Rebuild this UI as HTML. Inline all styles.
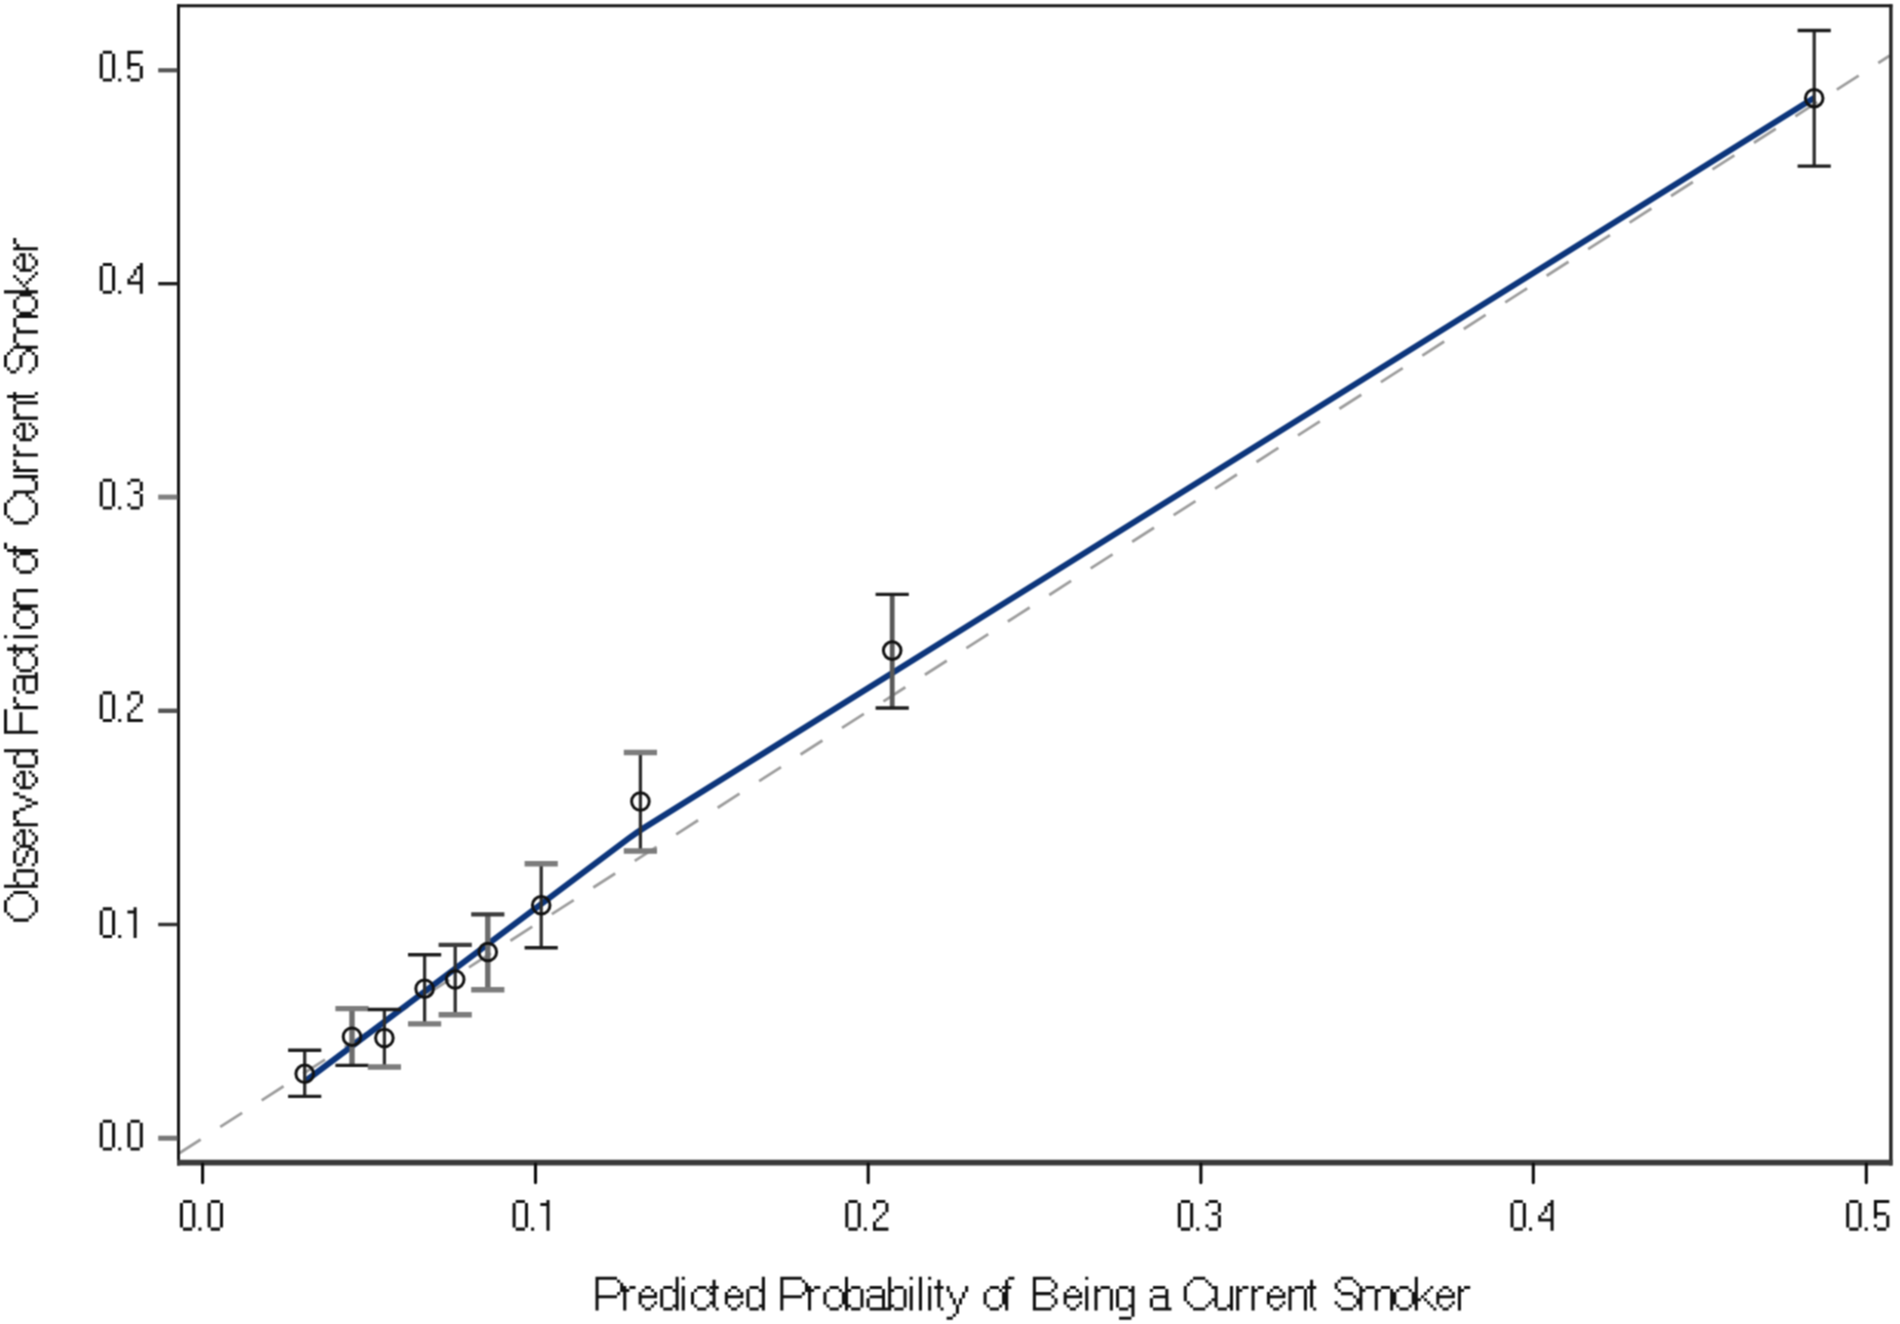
<!DOCTYPE html>
<html><head><meta charset="utf-8"><title>Calibration plot</title>
<style>
html,body{margin:0;padding:0;background:#fff;}
body{width:1900px;height:1324px;overflow:hidden;position:relative;}
svg{position:absolute;left:0;top:0;display:block;}
text{font-family:"Liberation Sans",sans-serif;}
</style></head><body>
<svg width="1900" height="1324" viewBox="0 0 1900 1324" role="img" aria-label="Calibration plot: observed fraction vs predicted probability of being a current smoker">
<defs><filter id="soft" filterUnits="userSpaceOnUse" x="0" y="0" width="1900" height="1324" color-interpolation-filters="sRGB"><feConvolveMatrix order="3" kernelMatrix="1 2 1 2 4 2 1 2 1" edgeMode="duplicate"/></filter></defs>
<g filter="url(#soft)">
<rect x="0" y="0" width="1900" height="1324" fill="#fff"/>
<line x1="178.8" y1="1153.5" x2="1889.5" y2="55.8" stroke="#9c9c9c" stroke-width="2.8" stroke-dasharray="26 23.25"/>
<path d="M305.5 1081 L628 838.9 Q636.8 832.3 646 826.6 L1814.3 97.8" fill="none" stroke="#0c357b" stroke-width="6"/>
<line x1="304.7" y1="1050.2" x2="304.7" y2="1096.4" stroke="#2e2e2e" stroke-width="3.3"/>
<line x1="288.1" y1="1050.2" x2="321.3" y2="1050.2" stroke="#1c1c1c" stroke-width="3.4"/>
<line x1="288.1" y1="1096.4" x2="321.3" y2="1096.4" stroke="#1c1c1c" stroke-width="3.4"/>
<circle cx="304.7" cy="1073.8" r="8.8" fill="none" stroke="#111" stroke-width="3"/>
<line x1="352.0" y1="1008.6" x2="352.0" y2="1065.4" stroke="#6c6c6c" stroke-width="5.4"/>
<line x1="335.4" y1="1008.6" x2="368.6" y2="1008.6" stroke="#7c7c7c" stroke-width="5.4"/>
<line x1="335.4" y1="1065.4" x2="368.6" y2="1065.4" stroke="#1c1c1c" stroke-width="3.4"/>
<circle cx="352.0" cy="1036.7" r="8.8" fill="none" stroke="#111" stroke-width="3"/>
<line x1="384.4" y1="1009.5" x2="384.4" y2="1067.0" stroke="#2e2e2e" stroke-width="3.3"/>
<line x1="367.8" y1="1009.5" x2="401.0" y2="1009.5" stroke="#1c1c1c" stroke-width="3.4"/>
<line x1="367.8" y1="1067.0" x2="401.0" y2="1067.0" stroke="#7c7c7c" stroke-width="5.4"/>
<circle cx="384.4" cy="1038.0" r="8.8" fill="none" stroke="#111" stroke-width="3"/>
<line x1="424.6" y1="954.8" x2="424.6" y2="1023.9" stroke="#2e2e2e" stroke-width="3.3"/>
<line x1="408.0" y1="954.8" x2="441.2" y2="954.8" stroke="#1c1c1c" stroke-width="3.4"/>
<line x1="408.0" y1="1023.9" x2="441.2" y2="1023.9" stroke="#7c7c7c" stroke-width="5.4"/>
<circle cx="424.6" cy="988.7" r="8.8" fill="none" stroke="#111" stroke-width="3"/>
<line x1="455.2" y1="944.9" x2="455.2" y2="1014.7" stroke="#2e2e2e" stroke-width="3.3"/>
<line x1="438.6" y1="944.9" x2="471.8" y2="944.9" stroke="#3c3c3c" stroke-width="4.2"/>
<line x1="438.6" y1="1014.7" x2="471.8" y2="1014.7" stroke="#7c7c7c" stroke-width="5.4"/>
<circle cx="455.2" cy="979.5" r="8.8" fill="none" stroke="#111" stroke-width="3"/>
<line x1="487.8" y1="914.3" x2="487.8" y2="989.7" stroke="#6c6c6c" stroke-width="5.4"/>
<line x1="471.2" y1="914.3" x2="504.4" y2="914.3" stroke="#3c3c3c" stroke-width="4.2"/>
<line x1="471.2" y1="989.7" x2="504.4" y2="989.7" stroke="#7c7c7c" stroke-width="5.4"/>
<circle cx="487.8" cy="952.0" r="8.8" fill="none" stroke="#111" stroke-width="3"/>
<line x1="541.2" y1="863.8" x2="541.2" y2="947.7" stroke="#2e2e2e" stroke-width="3.3"/>
<line x1="524.6" y1="863.8" x2="557.8" y2="863.8" stroke="#7c7c7c" stroke-width="5.4"/>
<line x1="524.6" y1="947.7" x2="557.8" y2="947.7" stroke="#1c1c1c" stroke-width="3.4"/>
<circle cx="541.2" cy="905.3" r="8.8" fill="none" stroke="#111" stroke-width="3"/>
<line x1="640.4" y1="752.5" x2="640.4" y2="851.0" stroke="#2e2e2e" stroke-width="3.3"/>
<line x1="623.8" y1="752.5" x2="657.0" y2="752.5" stroke="#7c7c7c" stroke-width="5.4"/>
<line x1="623.8" y1="851.0" x2="657.0" y2="851.0" stroke="#7c7c7c" stroke-width="5.4"/>
<circle cx="640.4" cy="801.5" r="8.8" fill="none" stroke="#111" stroke-width="3"/>
<line x1="892.2" y1="594.4" x2="892.2" y2="708.0" stroke="#585858" stroke-width="4.8"/>
<line x1="875.6" y1="594.4" x2="908.8" y2="594.4" stroke="#1c1c1c" stroke-width="3.4"/>
<line x1="875.6" y1="708.0" x2="908.8" y2="708.0" stroke="#1c1c1c" stroke-width="3.4"/>
<circle cx="892.2" cy="650.6" r="8.8" fill="none" stroke="#111" stroke-width="3"/>
<line x1="1814.2" y1="30.5" x2="1814.2" y2="166.1" stroke="#2e2e2e" stroke-width="3.3"/>
<line x1="1797.6" y1="30.5" x2="1830.8" y2="30.5" stroke="#1c1c1c" stroke-width="3.4"/>
<line x1="1797.6" y1="166.1" x2="1830.8" y2="166.1" stroke="#1c1c1c" stroke-width="3.4"/>
<circle cx="1814.2" cy="98.2" r="8.8" fill="none" stroke="#111" stroke-width="3"/>
<line x1="178.5" y1="4.3" x2="178.5" y2="1165.5" stroke="#161616" stroke-width="3"/>
<line x1="177" y1="5.8" x2="1892.4" y2="5.8" stroke="#161616" stroke-width="3"/>
<line x1="1890.9" y1="4.3" x2="1890.9" y2="1165.5" stroke="#222" stroke-width="3.4"/>
<line x1="177" y1="1162.6" x2="1892.6" y2="1162.6" stroke="#3a3a3a" stroke-width="5.6"/>
<line x1="158.2" y1="1138.2" x2="177.5" y2="1138.2" stroke="#777" stroke-width="5"/>
<line x1="158.2" y1="924.5" x2="177.5" y2="924.5" stroke="#333" stroke-width="3.5"/>
<line x1="158.2" y1="710.8" x2="177.5" y2="710.8" stroke="#555" stroke-width="4.5"/>
<line x1="158.2" y1="497.1" x2="177.5" y2="497.1" stroke="#808080" stroke-width="5"/>
<line x1="158.2" y1="283.7" x2="177.5" y2="283.7" stroke="#1e1e1e" stroke-width="3.4"/>
<line x1="158.2" y1="70.3" x2="177.5" y2="70.3" stroke="#555" stroke-width="4.2"/>
<line x1="202.6" y1="1164" x2="202.6" y2="1182.6" stroke="#0a0a0a" stroke-width="3.1" stroke-linecap="round"/>
<line x1="535.5" y1="1164" x2="535.5" y2="1182.6" stroke="#0a0a0a" stroke-width="3.1" stroke-linecap="round"/>
<line x1="868.2" y1="1164" x2="868.2" y2="1182.6" stroke="#0a0a0a" stroke-width="3.1" stroke-linecap="round"/>
<line x1="1200.9" y1="1164" x2="1200.9" y2="1182.6" stroke="#0a0a0a" stroke-width="3.1" stroke-linecap="round"/>
<line x1="1533.3" y1="1164" x2="1533.3" y2="1182.6" stroke="#0a0a0a" stroke-width="3.1" stroke-linecap="round"/>
<line x1="1866.3" y1="1164" x2="1866.3" y2="1182.6" stroke="#0a0a0a" stroke-width="3.1" stroke-linecap="round"/>
<path d="M102.78 1119.70h9.24v3.08h-9.24zM99.70 1122.78h3.08v3.08h-3.08zM112.02 1122.78h3.08v3.08h-3.08zM99.70 1125.86h3.08v3.08h-3.08zM112.02 1125.86h3.08v3.08h-3.08zM99.70 1128.94h3.08v3.08h-3.08zM112.02 1128.94h3.08v3.08h-3.08zM99.70 1132.02h3.08v3.08h-3.08zM112.02 1132.02h3.08v3.08h-3.08zM99.70 1135.10h3.08v3.08h-3.08zM112.02 1135.10h3.08v3.08h-3.08zM99.70 1138.18h3.08v3.08h-3.08zM112.02 1138.18h3.08v3.08h-3.08zM99.70 1141.26h3.08v3.08h-3.08zM112.02 1141.26h3.08v3.08h-3.08zM99.70 1144.34h3.08v3.08h-3.08zM112.02 1144.34h3.08v3.08h-3.08zM102.78 1147.42h9.24v3.08h-9.24zM118.18 1147.42h3.08v3.08h-3.08zM130.50 1119.70h9.24v3.08h-9.24zM127.42 1122.78h3.08v3.08h-3.08zM139.74 1122.78h3.08v3.08h-3.08zM127.42 1125.86h3.08v3.08h-3.08zM139.74 1125.86h3.08v3.08h-3.08zM127.42 1128.94h3.08v3.08h-3.08zM139.74 1128.94h3.08v3.08h-3.08zM127.42 1132.02h3.08v3.08h-3.08zM139.74 1132.02h3.08v3.08h-3.08zM127.42 1135.10h3.08v3.08h-3.08zM139.74 1135.10h3.08v3.08h-3.08zM127.42 1138.18h3.08v3.08h-3.08zM139.74 1138.18h3.08v3.08h-3.08zM127.42 1141.26h3.08v3.08h-3.08zM139.74 1141.26h3.08v3.08h-3.08zM127.42 1144.34h3.08v3.08h-3.08zM139.74 1144.34h3.08v3.08h-3.08zM130.50 1147.42h9.24v3.08h-9.24zM182.98 1199.90h9.24v3.08h-9.24zM179.90 1202.98h3.08v3.08h-3.08zM192.22 1202.98h3.08v3.08h-3.08zM179.90 1206.06h3.08v3.08h-3.08zM192.22 1206.06h3.08v3.08h-3.08zM179.90 1209.14h3.08v3.08h-3.08zM192.22 1209.14h3.08v3.08h-3.08zM179.90 1212.22h3.08v3.08h-3.08zM192.22 1212.22h3.08v3.08h-3.08zM179.90 1215.30h3.08v3.08h-3.08zM192.22 1215.30h3.08v3.08h-3.08zM179.90 1218.38h3.08v3.08h-3.08zM192.22 1218.38h3.08v3.08h-3.08zM179.90 1221.46h3.08v3.08h-3.08zM192.22 1221.46h3.08v3.08h-3.08zM179.90 1224.54h3.08v3.08h-3.08zM192.22 1224.54h3.08v3.08h-3.08zM182.98 1227.62h9.24v3.08h-9.24zM198.38 1227.62h3.08v3.08h-3.08zM210.70 1199.90h9.24v3.08h-9.24zM207.62 1202.98h3.08v3.08h-3.08zM219.94 1202.98h3.08v3.08h-3.08zM207.62 1206.06h3.08v3.08h-3.08zM219.94 1206.06h3.08v3.08h-3.08zM207.62 1209.14h3.08v3.08h-3.08zM219.94 1209.14h3.08v3.08h-3.08zM207.62 1212.22h3.08v3.08h-3.08zM219.94 1212.22h3.08v3.08h-3.08zM207.62 1215.30h3.08v3.08h-3.08zM219.94 1215.30h3.08v3.08h-3.08zM207.62 1218.38h3.08v3.08h-3.08zM219.94 1218.38h3.08v3.08h-3.08zM207.62 1221.46h3.08v3.08h-3.08zM219.94 1221.46h3.08v3.08h-3.08zM207.62 1224.54h3.08v3.08h-3.08zM219.94 1224.54h3.08v3.08h-3.08zM210.70 1227.62h9.24v3.08h-9.24zM102.78 907.30h9.24v3.08h-9.24zM99.70 910.38h3.08v3.08h-3.08zM112.02 910.38h3.08v3.08h-3.08zM99.70 913.46h3.08v3.08h-3.08zM112.02 913.46h3.08v3.08h-3.08zM99.70 916.54h3.08v3.08h-3.08zM112.02 916.54h3.08v3.08h-3.08zM99.70 919.62h3.08v3.08h-3.08zM112.02 919.62h3.08v3.08h-3.08zM99.70 922.70h3.08v3.08h-3.08zM112.02 922.70h3.08v3.08h-3.08zM99.70 925.78h3.08v3.08h-3.08zM112.02 925.78h3.08v3.08h-3.08zM99.70 928.86h3.08v3.08h-3.08zM112.02 928.86h3.08v3.08h-3.08zM99.70 931.94h3.08v3.08h-3.08zM112.02 931.94h3.08v3.08h-3.08zM102.78 935.02h9.24v3.08h-9.24zM118.18 935.02h3.08v3.08h-3.08zM133.58 907.30h3.08v3.08h-3.08zM127.42 910.38h9.24v3.08h-9.24zM133.58 913.46h3.08v3.08h-3.08zM133.58 916.54h3.08v3.08h-3.08zM133.58 919.62h3.08v3.08h-3.08zM133.58 922.70h3.08v3.08h-3.08zM133.58 925.78h3.08v3.08h-3.08zM133.58 928.86h3.08v3.08h-3.08zM133.58 931.94h3.08v3.08h-3.08zM133.58 935.02h3.08v3.08h-3.08zM515.68 1199.90h9.24v3.08h-9.24zM512.60 1202.98h3.08v3.08h-3.08zM524.92 1202.98h3.08v3.08h-3.08zM512.60 1206.06h3.08v3.08h-3.08zM524.92 1206.06h3.08v3.08h-3.08zM512.60 1209.14h3.08v3.08h-3.08zM524.92 1209.14h3.08v3.08h-3.08zM512.60 1212.22h3.08v3.08h-3.08zM524.92 1212.22h3.08v3.08h-3.08zM512.60 1215.30h3.08v3.08h-3.08zM524.92 1215.30h3.08v3.08h-3.08zM512.60 1218.38h3.08v3.08h-3.08zM524.92 1218.38h3.08v3.08h-3.08zM512.60 1221.46h3.08v3.08h-3.08zM524.92 1221.46h3.08v3.08h-3.08zM512.60 1224.54h3.08v3.08h-3.08zM524.92 1224.54h3.08v3.08h-3.08zM515.68 1227.62h9.24v3.08h-9.24zM531.08 1227.62h3.08v3.08h-3.08zM546.48 1199.90h3.08v3.08h-3.08zM540.32 1202.98h9.24v3.08h-9.24zM546.48 1206.06h3.08v3.08h-3.08zM546.48 1209.14h3.08v3.08h-3.08zM546.48 1212.22h3.08v3.08h-3.08zM546.48 1215.30h3.08v3.08h-3.08zM546.48 1218.38h3.08v3.08h-3.08zM546.48 1221.46h3.08v3.08h-3.08zM546.48 1224.54h3.08v3.08h-3.08zM546.48 1227.62h3.08v3.08h-3.08zM102.78 691.30h9.24v3.08h-9.24zM99.70 694.38h3.08v3.08h-3.08zM112.02 694.38h3.08v3.08h-3.08zM99.70 697.46h3.08v3.08h-3.08zM112.02 697.46h3.08v3.08h-3.08zM99.70 700.54h3.08v3.08h-3.08zM112.02 700.54h3.08v3.08h-3.08zM99.70 703.62h3.08v3.08h-3.08zM112.02 703.62h3.08v3.08h-3.08zM99.70 706.70h3.08v3.08h-3.08zM112.02 706.70h3.08v3.08h-3.08zM99.70 709.78h3.08v3.08h-3.08zM112.02 709.78h3.08v3.08h-3.08zM99.70 712.86h3.08v3.08h-3.08zM112.02 712.86h3.08v3.08h-3.08zM99.70 715.94h3.08v3.08h-3.08zM112.02 715.94h3.08v3.08h-3.08zM102.78 719.02h9.24v3.08h-9.24zM118.18 719.02h3.08v3.08h-3.08zM130.50 691.30h9.24v3.08h-9.24zM127.42 694.38h3.08v3.08h-3.08zM139.74 694.38h3.08v3.08h-3.08zM127.42 697.46h3.08v3.08h-3.08zM139.74 697.46h3.08v3.08h-3.08zM139.74 700.54h3.08v3.08h-3.08zM136.66 703.62h3.08v3.08h-3.08zM133.58 706.70h3.08v3.08h-3.08zM130.50 709.78h3.08v3.08h-3.08zM127.42 712.86h3.08v3.08h-3.08zM127.42 715.94h3.08v3.08h-3.08zM127.42 719.02h15.40v3.08h-15.40zM848.38 1199.90h9.24v3.08h-9.24zM845.30 1202.98h3.08v3.08h-3.08zM857.62 1202.98h3.08v3.08h-3.08zM845.30 1206.06h3.08v3.08h-3.08zM857.62 1206.06h3.08v3.08h-3.08zM845.30 1209.14h3.08v3.08h-3.08zM857.62 1209.14h3.08v3.08h-3.08zM845.30 1212.22h3.08v3.08h-3.08zM857.62 1212.22h3.08v3.08h-3.08zM845.30 1215.30h3.08v3.08h-3.08zM857.62 1215.30h3.08v3.08h-3.08zM845.30 1218.38h3.08v3.08h-3.08zM857.62 1218.38h3.08v3.08h-3.08zM845.30 1221.46h3.08v3.08h-3.08zM857.62 1221.46h3.08v3.08h-3.08zM845.30 1224.54h3.08v3.08h-3.08zM857.62 1224.54h3.08v3.08h-3.08zM848.38 1227.62h9.24v3.08h-9.24zM863.78 1227.62h3.08v3.08h-3.08zM876.10 1199.90h9.24v3.08h-9.24zM873.02 1202.98h3.08v3.08h-3.08zM885.34 1202.98h3.08v3.08h-3.08zM873.02 1206.06h3.08v3.08h-3.08zM885.34 1206.06h3.08v3.08h-3.08zM885.34 1209.14h3.08v3.08h-3.08zM882.26 1212.22h3.08v3.08h-3.08zM879.18 1215.30h3.08v3.08h-3.08zM876.10 1218.38h3.08v3.08h-3.08zM873.02 1221.46h3.08v3.08h-3.08zM873.02 1224.54h3.08v3.08h-3.08zM873.02 1227.62h15.40v3.08h-15.40zM102.78 478.70h9.24v3.08h-9.24zM99.70 481.78h3.08v3.08h-3.08zM112.02 481.78h3.08v3.08h-3.08zM99.70 484.86h3.08v3.08h-3.08zM112.02 484.86h3.08v3.08h-3.08zM99.70 487.94h3.08v3.08h-3.08zM112.02 487.94h3.08v3.08h-3.08zM99.70 491.02h3.08v3.08h-3.08zM112.02 491.02h3.08v3.08h-3.08zM99.70 494.10h3.08v3.08h-3.08zM112.02 494.10h3.08v3.08h-3.08zM99.70 497.18h3.08v3.08h-3.08zM112.02 497.18h3.08v3.08h-3.08zM99.70 500.26h3.08v3.08h-3.08zM112.02 500.26h3.08v3.08h-3.08zM99.70 503.34h3.08v3.08h-3.08zM112.02 503.34h3.08v3.08h-3.08zM102.78 506.42h9.24v3.08h-9.24zM118.18 506.42h3.08v3.08h-3.08zM130.50 478.70h9.24v3.08h-9.24zM127.42 481.78h3.08v3.08h-3.08zM139.74 481.78h3.08v3.08h-3.08zM139.74 484.86h3.08v3.08h-3.08zM139.74 487.94h3.08v3.08h-3.08zM133.58 491.02h6.16v3.08h-6.16zM139.74 494.10h3.08v3.08h-3.08zM139.74 497.18h3.08v3.08h-3.08zM139.74 500.26h3.08v3.08h-3.08zM127.42 503.34h3.08v3.08h-3.08zM139.74 503.34h3.08v3.08h-3.08zM130.50 506.42h9.24v3.08h-9.24zM1180.88 1199.90h9.24v3.08h-9.24zM1177.80 1202.98h3.08v3.08h-3.08zM1190.12 1202.98h3.08v3.08h-3.08zM1177.80 1206.06h3.08v3.08h-3.08zM1190.12 1206.06h3.08v3.08h-3.08zM1177.80 1209.14h3.08v3.08h-3.08zM1190.12 1209.14h3.08v3.08h-3.08zM1177.80 1212.22h3.08v3.08h-3.08zM1190.12 1212.22h3.08v3.08h-3.08zM1177.80 1215.30h3.08v3.08h-3.08zM1190.12 1215.30h3.08v3.08h-3.08zM1177.80 1218.38h3.08v3.08h-3.08zM1190.12 1218.38h3.08v3.08h-3.08zM1177.80 1221.46h3.08v3.08h-3.08zM1190.12 1221.46h3.08v3.08h-3.08zM1177.80 1224.54h3.08v3.08h-3.08zM1190.12 1224.54h3.08v3.08h-3.08zM1180.88 1227.62h9.24v3.08h-9.24zM1196.28 1227.62h3.08v3.08h-3.08zM1208.60 1199.90h9.24v3.08h-9.24zM1205.52 1202.98h3.08v3.08h-3.08zM1217.84 1202.98h3.08v3.08h-3.08zM1217.84 1206.06h3.08v3.08h-3.08zM1217.84 1209.14h3.08v3.08h-3.08zM1211.68 1212.22h6.16v3.08h-6.16zM1217.84 1215.30h3.08v3.08h-3.08zM1217.84 1218.38h3.08v3.08h-3.08zM1217.84 1221.46h3.08v3.08h-3.08zM1205.52 1224.54h3.08v3.08h-3.08zM1217.84 1224.54h3.08v3.08h-3.08zM1208.60 1227.62h9.24v3.08h-9.24zM102.78 263.00h9.24v3.08h-9.24zM99.70 266.08h3.08v3.08h-3.08zM112.02 266.08h3.08v3.08h-3.08zM99.70 269.16h3.08v3.08h-3.08zM112.02 269.16h3.08v3.08h-3.08zM99.70 272.24h3.08v3.08h-3.08zM112.02 272.24h3.08v3.08h-3.08zM99.70 275.32h3.08v3.08h-3.08zM112.02 275.32h3.08v3.08h-3.08zM99.70 278.40h3.08v3.08h-3.08zM112.02 278.40h3.08v3.08h-3.08zM99.70 281.48h3.08v3.08h-3.08zM112.02 281.48h3.08v3.08h-3.08zM99.70 284.56h3.08v3.08h-3.08zM112.02 284.56h3.08v3.08h-3.08zM99.70 287.64h3.08v3.08h-3.08zM112.02 287.64h3.08v3.08h-3.08zM102.78 290.72h9.24v3.08h-9.24zM118.18 290.72h3.08v3.08h-3.08zM139.74 263.00h3.08v3.08h-3.08zM136.66 266.08h6.16v3.08h-6.16zM133.58 269.16h3.08v3.08h-3.08zM139.74 269.16h3.08v3.08h-3.08zM133.58 272.24h3.08v3.08h-3.08zM139.74 272.24h3.08v3.08h-3.08zM130.50 275.32h3.08v3.08h-3.08zM139.74 275.32h3.08v3.08h-3.08zM127.42 278.40h3.08v3.08h-3.08zM139.74 278.40h3.08v3.08h-3.08zM127.42 281.48h15.40v3.08h-15.40zM139.74 284.56h3.08v3.08h-3.08zM139.74 287.64h3.08v3.08h-3.08zM139.74 290.72h3.08v3.08h-3.08zM1513.58 1199.90h9.24v3.08h-9.24zM1510.50 1202.98h3.08v3.08h-3.08zM1522.82 1202.98h3.08v3.08h-3.08zM1510.50 1206.06h3.08v3.08h-3.08zM1522.82 1206.06h3.08v3.08h-3.08zM1510.50 1209.14h3.08v3.08h-3.08zM1522.82 1209.14h3.08v3.08h-3.08zM1510.50 1212.22h3.08v3.08h-3.08zM1522.82 1212.22h3.08v3.08h-3.08zM1510.50 1215.30h3.08v3.08h-3.08zM1522.82 1215.30h3.08v3.08h-3.08zM1510.50 1218.38h3.08v3.08h-3.08zM1522.82 1218.38h3.08v3.08h-3.08zM1510.50 1221.46h3.08v3.08h-3.08zM1522.82 1221.46h3.08v3.08h-3.08zM1510.50 1224.54h3.08v3.08h-3.08zM1522.82 1224.54h3.08v3.08h-3.08zM1513.58 1227.62h9.24v3.08h-9.24zM1528.98 1227.62h3.08v3.08h-3.08zM1550.54 1199.90h3.08v3.08h-3.08zM1547.46 1202.98h6.16v3.08h-6.16zM1544.38 1206.06h3.08v3.08h-3.08zM1550.54 1206.06h3.08v3.08h-3.08zM1544.38 1209.14h3.08v3.08h-3.08zM1550.54 1209.14h3.08v3.08h-3.08zM1541.30 1212.22h3.08v3.08h-3.08zM1550.54 1212.22h3.08v3.08h-3.08zM1538.22 1215.30h3.08v3.08h-3.08zM1550.54 1215.30h3.08v3.08h-3.08zM1538.22 1218.38h15.40v3.08h-15.40zM1550.54 1221.46h3.08v3.08h-3.08zM1550.54 1224.54h3.08v3.08h-3.08zM1550.54 1227.62h3.08v3.08h-3.08zM102.78 50.70h9.24v3.08h-9.24zM99.70 53.78h3.08v3.08h-3.08zM112.02 53.78h3.08v3.08h-3.08zM99.70 56.86h3.08v3.08h-3.08zM112.02 56.86h3.08v3.08h-3.08zM99.70 59.94h3.08v3.08h-3.08zM112.02 59.94h3.08v3.08h-3.08zM99.70 63.02h3.08v3.08h-3.08zM112.02 63.02h3.08v3.08h-3.08zM99.70 66.10h3.08v3.08h-3.08zM112.02 66.10h3.08v3.08h-3.08zM99.70 69.18h3.08v3.08h-3.08zM112.02 69.18h3.08v3.08h-3.08zM99.70 72.26h3.08v3.08h-3.08zM112.02 72.26h3.08v3.08h-3.08zM99.70 75.34h3.08v3.08h-3.08zM112.02 75.34h3.08v3.08h-3.08zM102.78 78.42h9.24v3.08h-9.24zM118.18 78.42h3.08v3.08h-3.08zM127.42 50.70h15.40v3.08h-15.40zM127.42 53.78h3.08v3.08h-3.08zM127.42 56.86h3.08v3.08h-3.08zM127.42 59.94h3.08v3.08h-3.08zM127.42 63.02h12.32v3.08h-12.32zM127.42 66.10h3.08v3.08h-3.08zM139.74 66.10h3.08v3.08h-3.08zM139.74 69.18h3.08v3.08h-3.08zM139.74 72.26h3.08v3.08h-3.08zM127.42 75.34h3.08v3.08h-3.08zM139.74 75.34h3.08v3.08h-3.08zM130.50 78.42h9.24v3.08h-9.24zM1849.28 1199.90h9.24v3.08h-9.24zM1846.20 1202.98h3.08v3.08h-3.08zM1858.52 1202.98h3.08v3.08h-3.08zM1846.20 1206.06h3.08v3.08h-3.08zM1858.52 1206.06h3.08v3.08h-3.08zM1846.20 1209.14h3.08v3.08h-3.08zM1858.52 1209.14h3.08v3.08h-3.08zM1846.20 1212.22h3.08v3.08h-3.08zM1858.52 1212.22h3.08v3.08h-3.08zM1846.20 1215.30h3.08v3.08h-3.08zM1858.52 1215.30h3.08v3.08h-3.08zM1846.20 1218.38h3.08v3.08h-3.08zM1858.52 1218.38h3.08v3.08h-3.08zM1846.20 1221.46h3.08v3.08h-3.08zM1858.52 1221.46h3.08v3.08h-3.08zM1846.20 1224.54h3.08v3.08h-3.08zM1858.52 1224.54h3.08v3.08h-3.08zM1849.28 1227.62h9.24v3.08h-9.24zM1864.68 1227.62h3.08v3.08h-3.08zM1873.92 1199.90h15.40v3.08h-15.40zM1873.92 1202.98h3.08v3.08h-3.08zM1873.92 1206.06h3.08v3.08h-3.08zM1873.92 1209.14h3.08v3.08h-3.08zM1873.92 1212.22h12.32v3.08h-12.32zM1873.92 1215.30h3.08v3.08h-3.08zM1886.24 1215.30h3.08v3.08h-3.08zM1886.24 1218.38h3.08v3.08h-3.08zM1886.24 1221.46h3.08v3.08h-3.08zM1873.92 1224.54h3.08v3.08h-3.08zM1886.24 1224.54h3.08v3.08h-3.08zM1877.00 1227.62h9.24v3.08h-9.24z" fill="#111"><title>Tick labels 0.0 0.1 0.2 0.3 0.4 0.5</title></path>
<g aria-label="Predicted Probability of Being a Current Smoker" role="img"><title>Predicted Probability of Being a Current Smoker</title><path d="M595.50 1276.70h21.56v3.08h-21.56zM675.58 1276.70h3.08v3.08h-3.08zM681.74 1276.70h3.08v3.08h-3.08zM761.82 1276.70h3.08v3.08h-3.08zM780.30 1276.70h21.56v3.08h-21.56zM844.98 1276.70h3.08v3.08h-3.08zM888.10 1276.70h3.08v3.08h-3.08zM909.66 1276.70h3.08v3.08h-3.08zM918.90 1276.70h3.08v3.08h-3.08zM928.14 1276.70h3.08v3.08h-3.08zM1008.22 1276.70h6.16v3.08h-6.16zM1032.86 1276.70h18.48v3.08h-18.48zM1085.22 1276.70h3.08v3.08h-3.08zM1193.02 1276.70h12.32v3.08h-12.32zM1340.86 1276.70h12.32v3.08h-12.32zM1414.78 1276.70h3.08v3.08h-3.08zM595.50 1279.78h3.08v3.08h-3.08zM617.06 1279.78h3.08v3.08h-3.08zM675.58 1279.78h3.08v3.08h-3.08zM712.54 1279.78h3.08v3.08h-3.08zM761.82 1279.78h3.08v3.08h-3.08zM780.30 1279.78h3.08v3.08h-3.08zM801.86 1279.78h3.08v3.08h-3.08zM844.98 1279.78h3.08v3.08h-3.08zM888.10 1279.78h3.08v3.08h-3.08zM918.90 1279.78h3.08v3.08h-3.08zM937.38 1279.78h3.08v3.08h-3.08zM1005.14 1279.78h3.08v3.08h-3.08zM1032.86 1279.78h3.08v3.08h-3.08zM1051.34 1279.78h3.08v3.08h-3.08zM1189.94 1279.78h3.08v3.08h-3.08zM1205.34 1279.78h3.08v3.08h-3.08zM1310.06 1279.78h3.08v3.08h-3.08zM1337.78 1279.78h3.08v3.08h-3.08zM1353.18 1279.78h3.08v3.08h-3.08zM1414.78 1279.78h3.08v3.08h-3.08zM595.50 1282.86h3.08v3.08h-3.08zM620.14 1282.86h3.08v3.08h-3.08zM675.58 1282.86h3.08v3.08h-3.08zM712.54 1282.86h3.08v3.08h-3.08zM761.82 1282.86h3.08v3.08h-3.08zM780.30 1282.86h3.08v3.08h-3.08zM804.94 1282.86h3.08v3.08h-3.08zM844.98 1282.86h3.08v3.08h-3.08zM888.10 1282.86h3.08v3.08h-3.08zM918.90 1282.86h3.08v3.08h-3.08zM937.38 1282.86h3.08v3.08h-3.08zM1005.14 1282.86h3.08v3.08h-3.08zM1032.86 1282.86h3.08v3.08h-3.08zM1054.42 1282.86h3.08v3.08h-3.08zM1186.86 1282.86h3.08v3.08h-3.08zM1208.42 1282.86h3.08v3.08h-3.08zM1310.06 1282.86h3.08v3.08h-3.08zM1334.70 1282.86h3.08v3.08h-3.08zM1356.26 1282.86h3.08v3.08h-3.08zM1414.78 1282.86h3.08v3.08h-3.08zM595.50 1285.94h3.08v3.08h-3.08zM620.14 1285.94h6.16v3.08h-6.16zM629.38 1285.94h6.16v3.08h-6.16zM644.78 1285.94h6.16v3.08h-6.16zM663.26 1285.94h9.24v3.08h-9.24zM675.58 1285.94h3.08v3.08h-3.08zM681.74 1285.94h3.08v3.08h-3.08zM697.14 1285.94h9.24v3.08h-9.24zM709.46 1285.94h9.24v3.08h-9.24zM731.02 1285.94h6.16v3.08h-6.16zM749.50 1285.94h9.24v3.08h-9.24zM761.82 1285.94h3.08v3.08h-3.08zM780.30 1285.94h3.08v3.08h-3.08zM804.94 1285.94h6.16v3.08h-6.16zM814.18 1285.94h6.16v3.08h-6.16zM829.58 1285.94h9.24v3.08h-9.24zM844.98 1285.94h3.08v3.08h-3.08zM851.14 1285.94h9.24v3.08h-9.24zM869.62 1285.94h12.32v3.08h-12.32zM888.10 1285.94h3.08v3.08h-3.08zM894.26 1285.94h9.24v3.08h-9.24zM909.66 1285.94h3.08v3.08h-3.08zM918.90 1285.94h3.08v3.08h-3.08zM928.14 1285.94h3.08v3.08h-3.08zM934.30 1285.94h9.24v3.08h-9.24zM946.62 1285.94h3.08v3.08h-3.08zM965.10 1285.94h3.08v3.08h-3.08zM989.74 1285.94h9.24v3.08h-9.24zM1002.06 1285.94h9.24v3.08h-9.24zM1032.86 1285.94h3.08v3.08h-3.08zM1054.42 1285.94h3.08v3.08h-3.08zM1069.82 1285.94h6.16v3.08h-6.16zM1085.22 1285.94h3.08v3.08h-3.08zM1094.46 1285.94h3.08v3.08h-3.08zM1100.62 1285.94h9.24v3.08h-9.24zM1119.10 1285.94h9.24v3.08h-9.24zM1131.42 1285.94h3.08v3.08h-3.08zM1152.98 1285.94h12.32v3.08h-12.32zM1183.78 1285.94h3.08v3.08h-3.08zM1211.50 1285.94h6.16v3.08h-6.16zM1229.98 1285.94h3.08v3.08h-3.08zM1236.14 1285.94h3.08v3.08h-3.08zM1242.30 1285.94h6.16v3.08h-6.16zM1251.54 1285.94h3.08v3.08h-3.08zM1257.70 1285.94h6.16v3.08h-6.16zM1273.10 1285.94h6.16v3.08h-6.16zM1288.50 1285.94h3.08v3.08h-3.08zM1294.66 1285.94h9.24v3.08h-9.24zM1306.98 1285.94h9.24v3.08h-9.24zM1334.70 1285.94h3.08v3.08h-3.08zM1359.34 1285.94h3.08v3.08h-3.08zM1365.50 1285.94h9.24v3.08h-9.24zM1380.90 1285.94h9.24v3.08h-9.24zM1399.38 1285.94h9.24v3.08h-9.24zM1414.78 1285.94h3.08v3.08h-3.08zM1430.18 1285.94h3.08v3.08h-3.08zM1442.50 1285.94h6.16v3.08h-6.16zM1457.90 1285.94h3.08v3.08h-3.08zM1464.06 1285.94h6.16v3.08h-6.16zM595.50 1289.02h3.08v3.08h-3.08zM620.14 1289.02h9.24v3.08h-9.24zM641.70 1289.02h3.08v3.08h-3.08zM650.94 1289.02h3.08v3.08h-3.08zM660.18 1289.02h3.08v3.08h-3.08zM672.50 1289.02h6.16v3.08h-6.16zM681.74 1289.02h3.08v3.08h-3.08zM694.06 1289.02h3.08v3.08h-3.08zM706.38 1289.02h3.08v3.08h-3.08zM712.54 1289.02h3.08v3.08h-3.08zM727.94 1289.02h3.08v3.08h-3.08zM737.18 1289.02h3.08v3.08h-3.08zM746.42 1289.02h3.08v3.08h-3.08zM758.74 1289.02h6.16v3.08h-6.16zM780.30 1289.02h3.08v3.08h-3.08zM804.94 1289.02h9.24v3.08h-9.24zM826.50 1289.02h3.08v3.08h-3.08zM838.82 1289.02h3.08v3.08h-3.08zM844.98 1289.02h6.16v3.08h-6.16zM860.38 1289.02h3.08v3.08h-3.08zM866.54 1289.02h3.08v3.08h-3.08zM881.94 1289.02h3.08v3.08h-3.08zM888.10 1289.02h6.16v3.08h-6.16zM903.50 1289.02h3.08v3.08h-3.08zM909.66 1289.02h3.08v3.08h-3.08zM918.90 1289.02h3.08v3.08h-3.08zM928.14 1289.02h3.08v3.08h-3.08zM937.38 1289.02h3.08v3.08h-3.08zM946.62 1289.02h3.08v3.08h-3.08zM965.10 1289.02h3.08v3.08h-3.08zM986.66 1289.02h3.08v3.08h-3.08zM998.98 1289.02h3.08v3.08h-3.08zM1005.14 1289.02h3.08v3.08h-3.08zM1032.86 1289.02h3.08v3.08h-3.08zM1051.34 1289.02h3.08v3.08h-3.08zM1066.74 1289.02h3.08v3.08h-3.08zM1075.98 1289.02h3.08v3.08h-3.08zM1085.22 1289.02h3.08v3.08h-3.08zM1094.46 1289.02h6.16v3.08h-6.16zM1109.86 1289.02h3.08v3.08h-3.08zM1116.02 1289.02h3.08v3.08h-3.08zM1128.34 1289.02h6.16v3.08h-6.16zM1149.90 1289.02h3.08v3.08h-3.08zM1165.30 1289.02h3.08v3.08h-3.08zM1183.78 1289.02h3.08v3.08h-3.08zM1214.58 1289.02h3.08v3.08h-3.08zM1229.98 1289.02h3.08v3.08h-3.08zM1236.14 1289.02h6.16v3.08h-6.16zM1251.54 1289.02h6.16v3.08h-6.16zM1270.02 1289.02h3.08v3.08h-3.08zM1279.26 1289.02h3.08v3.08h-3.08zM1288.50 1289.02h6.16v3.08h-6.16zM1303.90 1289.02h3.08v3.08h-3.08zM1310.06 1289.02h3.08v3.08h-3.08zM1337.78 1289.02h3.08v3.08h-3.08zM1359.34 1289.02h6.16v3.08h-6.16zM1374.74 1289.02h6.16v3.08h-6.16zM1390.14 1289.02h3.08v3.08h-3.08zM1396.30 1289.02h3.08v3.08h-3.08zM1408.62 1289.02h3.08v3.08h-3.08zM1414.78 1289.02h3.08v3.08h-3.08zM1427.10 1289.02h3.08v3.08h-3.08zM1439.42 1289.02h3.08v3.08h-3.08zM1448.66 1289.02h3.08v3.08h-3.08zM1457.90 1289.02h6.16v3.08h-6.16zM595.50 1292.10h3.08v3.08h-3.08zM617.06 1292.10h3.08v3.08h-3.08zM623.22 1292.10h3.08v3.08h-3.08zM638.62 1292.10h3.08v3.08h-3.08zM654.02 1292.10h3.08v3.08h-3.08zM660.18 1292.10h3.08v3.08h-3.08zM675.58 1292.10h3.08v3.08h-3.08zM681.74 1292.10h3.08v3.08h-3.08zM690.98 1292.10h3.08v3.08h-3.08zM709.46 1292.10h6.16v3.08h-6.16zM724.86 1292.10h3.08v3.08h-3.08zM740.26 1292.10h3.08v3.08h-3.08zM746.42 1292.10h3.08v3.08h-3.08zM761.82 1292.10h3.08v3.08h-3.08zM780.30 1292.10h3.08v3.08h-3.08zM801.86 1292.10h3.08v3.08h-3.08zM808.02 1292.10h3.08v3.08h-3.08zM823.42 1292.10h3.08v3.08h-3.08zM841.90 1292.10h6.16v3.08h-6.16zM860.38 1292.10h3.08v3.08h-3.08zM881.94 1292.10h3.08v3.08h-3.08zM888.10 1292.10h3.08v3.08h-3.08zM903.50 1292.10h3.08v3.08h-3.08zM909.66 1292.10h3.08v3.08h-3.08zM918.90 1292.10h3.08v3.08h-3.08zM928.14 1292.10h3.08v3.08h-3.08zM937.38 1292.10h3.08v3.08h-3.08zM949.70 1292.10h3.08v3.08h-3.08zM962.02 1292.10h3.08v3.08h-3.08zM983.58 1292.10h3.08v3.08h-3.08zM1002.06 1292.10h6.16v3.08h-6.16zM1032.86 1292.10h18.48v3.08h-18.48zM1063.66 1292.10h3.08v3.08h-3.08zM1079.06 1292.10h3.08v3.08h-3.08zM1085.22 1292.10h3.08v3.08h-3.08zM1094.46 1292.10h3.08v3.08h-3.08zM1109.86 1292.10h3.08v3.08h-3.08zM1116.02 1292.10h3.08v3.08h-3.08zM1131.42 1292.10h3.08v3.08h-3.08zM1165.30 1292.10h3.08v3.08h-3.08zM1183.78 1292.10h3.08v3.08h-3.08zM1214.58 1292.10h3.08v3.08h-3.08zM1229.98 1292.10h3.08v3.08h-3.08zM1236.14 1292.10h3.08v3.08h-3.08zM1251.54 1292.10h3.08v3.08h-3.08zM1266.94 1292.10h3.08v3.08h-3.08zM1282.34 1292.10h3.08v3.08h-3.08zM1288.50 1292.10h3.08v3.08h-3.08zM1303.90 1292.10h3.08v3.08h-3.08zM1310.06 1292.10h3.08v3.08h-3.08zM1340.86 1292.10h12.32v3.08h-12.32zM1359.34 1292.10h3.08v3.08h-3.08zM1374.74 1292.10h3.08v3.08h-3.08zM1390.14 1292.10h6.16v3.08h-6.16zM1411.70 1292.10h6.16v3.08h-6.16zM1424.02 1292.10h3.08v3.08h-3.08zM1436.34 1292.10h3.08v3.08h-3.08zM1451.74 1292.10h3.08v3.08h-3.08zM1457.90 1292.10h3.08v3.08h-3.08zM595.50 1295.18h21.56v3.08h-21.56zM623.22 1295.18h3.08v3.08h-3.08zM638.62 1295.18h18.48v3.08h-18.48zM660.18 1295.18h3.08v3.08h-3.08zM675.58 1295.18h3.08v3.08h-3.08zM681.74 1295.18h3.08v3.08h-3.08zM690.98 1295.18h3.08v3.08h-3.08zM712.54 1295.18h3.08v3.08h-3.08zM724.86 1295.18h18.48v3.08h-18.48zM746.42 1295.18h3.08v3.08h-3.08zM761.82 1295.18h3.08v3.08h-3.08zM780.30 1295.18h21.56v3.08h-21.56zM808.02 1295.18h3.08v3.08h-3.08zM823.42 1295.18h3.08v3.08h-3.08zM841.90 1295.18h6.16v3.08h-6.16zM860.38 1295.18h3.08v3.08h-3.08zM869.62 1295.18h15.40v3.08h-15.40zM888.10 1295.18h3.08v3.08h-3.08zM903.50 1295.18h3.08v3.08h-3.08zM909.66 1295.18h3.08v3.08h-3.08zM918.90 1295.18h3.08v3.08h-3.08zM928.14 1295.18h3.08v3.08h-3.08zM937.38 1295.18h3.08v3.08h-3.08zM949.70 1295.18h3.08v3.08h-3.08zM962.02 1295.18h3.08v3.08h-3.08zM983.58 1295.18h3.08v3.08h-3.08zM1002.06 1295.18h6.16v3.08h-6.16zM1032.86 1295.18h3.08v3.08h-3.08zM1051.34 1295.18h3.08v3.08h-3.08zM1063.66 1295.18h18.48v3.08h-18.48zM1085.22 1295.18h3.08v3.08h-3.08zM1094.46 1295.18h3.08v3.08h-3.08zM1109.86 1295.18h3.08v3.08h-3.08zM1116.02 1295.18h3.08v3.08h-3.08zM1131.42 1295.18h3.08v3.08h-3.08zM1152.98 1295.18h15.40v3.08h-15.40zM1183.78 1295.18h3.08v3.08h-3.08zM1214.58 1295.18h3.08v3.08h-3.08zM1229.98 1295.18h3.08v3.08h-3.08zM1236.14 1295.18h3.08v3.08h-3.08zM1251.54 1295.18h3.08v3.08h-3.08zM1266.94 1295.18h18.48v3.08h-18.48zM1288.50 1295.18h3.08v3.08h-3.08zM1303.90 1295.18h3.08v3.08h-3.08zM1310.06 1295.18h3.08v3.08h-3.08zM1353.18 1295.18h3.08v3.08h-3.08zM1359.34 1295.18h3.08v3.08h-3.08zM1374.74 1295.18h3.08v3.08h-3.08zM1390.14 1295.18h6.16v3.08h-6.16zM1411.70 1295.18h6.16v3.08h-6.16zM1420.94 1295.18h3.08v3.08h-3.08zM1436.34 1295.18h18.48v3.08h-18.48zM1457.90 1295.18h3.08v3.08h-3.08zM595.50 1298.26h3.08v3.08h-3.08zM623.22 1298.26h3.08v3.08h-3.08zM638.62 1298.26h3.08v3.08h-3.08zM660.18 1298.26h3.08v3.08h-3.08zM675.58 1298.26h3.08v3.08h-3.08zM681.74 1298.26h3.08v3.08h-3.08zM690.98 1298.26h3.08v3.08h-3.08zM712.54 1298.26h3.08v3.08h-3.08zM724.86 1298.26h3.08v3.08h-3.08zM746.42 1298.26h3.08v3.08h-3.08zM761.82 1298.26h3.08v3.08h-3.08zM780.30 1298.26h3.08v3.08h-3.08zM808.02 1298.26h3.08v3.08h-3.08zM823.42 1298.26h3.08v3.08h-3.08zM841.90 1298.26h6.16v3.08h-6.16zM860.38 1298.26h3.08v3.08h-3.08zM866.54 1298.26h3.08v3.08h-3.08zM881.94 1298.26h3.08v3.08h-3.08zM888.10 1298.26h3.08v3.08h-3.08zM903.50 1298.26h3.08v3.08h-3.08zM909.66 1298.26h3.08v3.08h-3.08zM918.90 1298.26h3.08v3.08h-3.08zM928.14 1298.26h3.08v3.08h-3.08zM937.38 1298.26h3.08v3.08h-3.08zM952.78 1298.26h3.08v3.08h-3.08zM958.94 1298.26h3.08v3.08h-3.08zM983.58 1298.26h3.08v3.08h-3.08zM1002.06 1298.26h6.16v3.08h-6.16zM1032.86 1298.26h3.08v3.08h-3.08zM1054.42 1298.26h3.08v3.08h-3.08zM1063.66 1298.26h3.08v3.08h-3.08zM1085.22 1298.26h3.08v3.08h-3.08zM1094.46 1298.26h3.08v3.08h-3.08zM1109.86 1298.26h3.08v3.08h-3.08zM1116.02 1298.26h3.08v3.08h-3.08zM1131.42 1298.26h3.08v3.08h-3.08zM1149.90 1298.26h3.08v3.08h-3.08zM1165.30 1298.26h3.08v3.08h-3.08zM1183.78 1298.26h3.08v3.08h-3.08zM1211.50 1298.26h6.16v3.08h-6.16zM1229.98 1298.26h3.08v3.08h-3.08zM1236.14 1298.26h3.08v3.08h-3.08zM1251.54 1298.26h3.08v3.08h-3.08zM1266.94 1298.26h3.08v3.08h-3.08zM1288.50 1298.26h3.08v3.08h-3.08zM1303.90 1298.26h3.08v3.08h-3.08zM1310.06 1298.26h3.08v3.08h-3.08zM1356.26 1298.26h6.16v3.08h-6.16zM1374.74 1298.26h3.08v3.08h-3.08zM1390.14 1298.26h6.16v3.08h-6.16zM1411.70 1298.26h9.24v3.08h-9.24zM1424.02 1298.26h3.08v3.08h-3.08zM1436.34 1298.26h3.08v3.08h-3.08zM1457.90 1298.26h3.08v3.08h-3.08zM595.50 1301.34h3.08v3.08h-3.08zM623.22 1301.34h3.08v3.08h-3.08zM638.62 1301.34h3.08v3.08h-3.08zM654.02 1301.34h3.08v3.08h-3.08zM660.18 1301.34h3.08v3.08h-3.08zM675.58 1301.34h3.08v3.08h-3.08zM681.74 1301.34h3.08v3.08h-3.08zM690.98 1301.34h3.08v3.08h-3.08zM709.46 1301.34h6.16v3.08h-6.16zM724.86 1301.34h3.08v3.08h-3.08zM740.26 1301.34h3.08v3.08h-3.08zM746.42 1301.34h3.08v3.08h-3.08zM761.82 1301.34h3.08v3.08h-3.08zM780.30 1301.34h3.08v3.08h-3.08zM808.02 1301.34h3.08v3.08h-3.08zM823.42 1301.34h3.08v3.08h-3.08zM841.90 1301.34h6.16v3.08h-6.16zM860.38 1301.34h3.08v3.08h-3.08zM866.54 1301.34h3.08v3.08h-3.08zM881.94 1301.34h3.08v3.08h-3.08zM888.10 1301.34h3.08v3.08h-3.08zM903.50 1301.34h3.08v3.08h-3.08zM909.66 1301.34h3.08v3.08h-3.08zM918.90 1301.34h3.08v3.08h-3.08zM928.14 1301.34h3.08v3.08h-3.08zM937.38 1301.34h3.08v3.08h-3.08zM952.78 1301.34h3.08v3.08h-3.08zM958.94 1301.34h3.08v3.08h-3.08zM983.58 1301.34h3.08v3.08h-3.08zM1002.06 1301.34h6.16v3.08h-6.16zM1032.86 1301.34h3.08v3.08h-3.08zM1054.42 1301.34h3.08v3.08h-3.08zM1063.66 1301.34h3.08v3.08h-3.08zM1079.06 1301.34h3.08v3.08h-3.08zM1085.22 1301.34h3.08v3.08h-3.08zM1094.46 1301.34h3.08v3.08h-3.08zM1109.86 1301.34h3.08v3.08h-3.08zM1116.02 1301.34h3.08v3.08h-3.08zM1131.42 1301.34h3.08v3.08h-3.08zM1149.90 1301.34h3.08v3.08h-3.08zM1165.30 1301.34h3.08v3.08h-3.08zM1186.86 1301.34h3.08v3.08h-3.08zM1208.42 1301.34h3.08v3.08h-3.08zM1214.58 1301.34h3.08v3.08h-3.08zM1229.98 1301.34h3.08v3.08h-3.08zM1236.14 1301.34h3.08v3.08h-3.08zM1251.54 1301.34h3.08v3.08h-3.08zM1266.94 1301.34h3.08v3.08h-3.08zM1282.34 1301.34h3.08v3.08h-3.08zM1288.50 1301.34h3.08v3.08h-3.08zM1303.90 1301.34h3.08v3.08h-3.08zM1310.06 1301.34h3.08v3.08h-3.08zM1334.70 1301.34h3.08v3.08h-3.08zM1356.26 1301.34h6.16v3.08h-6.16zM1374.74 1301.34h3.08v3.08h-3.08zM1390.14 1301.34h6.16v3.08h-6.16zM1411.70 1301.34h6.16v3.08h-6.16zM1427.10 1301.34h3.08v3.08h-3.08zM1436.34 1301.34h3.08v3.08h-3.08zM1451.74 1301.34h3.08v3.08h-3.08zM1457.90 1301.34h3.08v3.08h-3.08zM595.50 1304.42h3.08v3.08h-3.08zM623.22 1304.42h3.08v3.08h-3.08zM641.70 1304.42h3.08v3.08h-3.08zM650.94 1304.42h3.08v3.08h-3.08zM660.18 1304.42h3.08v3.08h-3.08zM672.50 1304.42h6.16v3.08h-6.16zM681.74 1304.42h3.08v3.08h-3.08zM694.06 1304.42h3.08v3.08h-3.08zM706.38 1304.42h3.08v3.08h-3.08zM712.54 1304.42h3.08v3.08h-3.08zM727.94 1304.42h3.08v3.08h-3.08zM737.18 1304.42h3.08v3.08h-3.08zM746.42 1304.42h3.08v3.08h-3.08zM758.74 1304.42h6.16v3.08h-6.16zM780.30 1304.42h3.08v3.08h-3.08zM808.02 1304.42h3.08v3.08h-3.08zM826.50 1304.42h3.08v3.08h-3.08zM838.82 1304.42h3.08v3.08h-3.08zM844.98 1304.42h6.16v3.08h-6.16zM860.38 1304.42h3.08v3.08h-3.08zM866.54 1304.42h3.08v3.08h-3.08zM881.94 1304.42h3.08v3.08h-3.08zM888.10 1304.42h6.16v3.08h-6.16zM903.50 1304.42h3.08v3.08h-3.08zM909.66 1304.42h3.08v3.08h-3.08zM918.90 1304.42h3.08v3.08h-3.08zM928.14 1304.42h3.08v3.08h-3.08zM937.38 1304.42h3.08v3.08h-3.08zM955.86 1304.42h3.08v3.08h-3.08zM986.66 1304.42h3.08v3.08h-3.08zM998.98 1304.42h3.08v3.08h-3.08zM1005.14 1304.42h3.08v3.08h-3.08zM1032.86 1304.42h3.08v3.08h-3.08zM1051.34 1304.42h3.08v3.08h-3.08zM1066.74 1304.42h3.08v3.08h-3.08zM1075.98 1304.42h3.08v3.08h-3.08zM1085.22 1304.42h3.08v3.08h-3.08zM1094.46 1304.42h3.08v3.08h-3.08zM1109.86 1304.42h3.08v3.08h-3.08zM1116.02 1304.42h3.08v3.08h-3.08zM1128.34 1304.42h6.16v3.08h-6.16zM1149.90 1304.42h3.08v3.08h-3.08zM1165.30 1304.42h3.08v3.08h-3.08zM1189.94 1304.42h3.08v3.08h-3.08zM1205.34 1304.42h3.08v3.08h-3.08zM1214.58 1304.42h3.08v3.08h-3.08zM1226.90 1304.42h6.16v3.08h-6.16zM1236.14 1304.42h3.08v3.08h-3.08zM1251.54 1304.42h3.08v3.08h-3.08zM1270.02 1304.42h3.08v3.08h-3.08zM1279.26 1304.42h3.08v3.08h-3.08zM1288.50 1304.42h3.08v3.08h-3.08zM1303.90 1304.42h3.08v3.08h-3.08zM1310.06 1304.42h3.08v3.08h-3.08zM1337.78 1304.42h3.08v3.08h-3.08zM1353.18 1304.42h3.08v3.08h-3.08zM1359.34 1304.42h3.08v3.08h-3.08zM1374.74 1304.42h3.08v3.08h-3.08zM1390.14 1304.42h3.08v3.08h-3.08zM1396.30 1304.42h3.08v3.08h-3.08zM1408.62 1304.42h3.08v3.08h-3.08zM1414.78 1304.42h3.08v3.08h-3.08zM1430.18 1304.42h3.08v3.08h-3.08zM1439.42 1304.42h3.08v3.08h-3.08zM1448.66 1304.42h3.08v3.08h-3.08zM1457.90 1304.42h3.08v3.08h-3.08zM595.50 1307.50h3.08v3.08h-3.08zM623.22 1307.50h3.08v3.08h-3.08zM644.78 1307.50h6.16v3.08h-6.16zM663.26 1307.50h9.24v3.08h-9.24zM675.58 1307.50h3.08v3.08h-3.08zM681.74 1307.50h3.08v3.08h-3.08zM697.14 1307.50h9.24v3.08h-9.24zM715.62 1307.50h3.08v3.08h-3.08zM731.02 1307.50h6.16v3.08h-6.16zM749.50 1307.50h9.24v3.08h-9.24zM761.82 1307.50h3.08v3.08h-3.08zM780.30 1307.50h3.08v3.08h-3.08zM808.02 1307.50h3.08v3.08h-3.08zM829.58 1307.50h9.24v3.08h-9.24zM844.98 1307.50h3.08v3.08h-3.08zM851.14 1307.50h9.24v3.08h-9.24zM869.62 1307.50h21.56v3.08h-21.56zM894.26 1307.50h9.24v3.08h-9.24zM909.66 1307.50h3.08v3.08h-3.08zM918.90 1307.50h3.08v3.08h-3.08zM928.14 1307.50h3.08v3.08h-3.08zM940.46 1307.50h3.08v3.08h-3.08zM955.86 1307.50h3.08v3.08h-3.08zM989.74 1307.50h9.24v3.08h-9.24zM1005.14 1307.50h3.08v3.08h-3.08zM1032.86 1307.50h18.48v3.08h-18.48zM1069.82 1307.50h6.16v3.08h-6.16zM1085.22 1307.50h3.08v3.08h-3.08zM1094.46 1307.50h3.08v3.08h-3.08zM1109.86 1307.50h3.08v3.08h-3.08zM1119.10 1307.50h9.24v3.08h-9.24zM1131.42 1307.50h3.08v3.08h-3.08zM1152.98 1307.50h18.48v3.08h-18.48zM1193.02 1307.50h12.32v3.08h-12.32zM1217.66 1307.50h9.24v3.08h-9.24zM1229.98 1307.50h3.08v3.08h-3.08zM1236.14 1307.50h3.08v3.08h-3.08zM1251.54 1307.50h3.08v3.08h-3.08zM1273.10 1307.50h6.16v3.08h-6.16zM1288.50 1307.50h3.08v3.08h-3.08zM1303.90 1307.50h3.08v3.08h-3.08zM1313.14 1307.50h3.08v3.08h-3.08zM1340.86 1307.50h12.32v3.08h-12.32zM1359.34 1307.50h3.08v3.08h-3.08zM1374.74 1307.50h3.08v3.08h-3.08zM1390.14 1307.50h3.08v3.08h-3.08zM1399.38 1307.50h9.24v3.08h-9.24zM1414.78 1307.50h3.08v3.08h-3.08zM1433.26 1307.50h3.08v3.08h-3.08zM1442.50 1307.50h6.16v3.08h-6.16zM1457.90 1307.50h3.08v3.08h-3.08zM955.86 1310.58h3.08v3.08h-3.08zM1131.42 1310.58h3.08v3.08h-3.08zM952.78 1313.66h3.08v3.08h-3.08zM1131.42 1313.66h3.08v3.08h-3.08zM946.62 1316.74h6.16v3.08h-6.16zM1119.10 1316.74h12.32v3.08h-12.32z" fill="#111"/></g>
<g aria-label="Observed Fraction of Current Smoker" role="img"><title>Observed Fraction of Current Smoker</title><path d="M4.00 900.14h3.08v12.32h-3.08zM4.00 884.74h3.08v3.08h-3.08zM4.00 749.22h3.08v3.08h-3.08zM4.00 709.18h3.08v24.64h-3.08zM4.00 635.26h3.08v3.08h-3.08zM4.00 542.86h3.08v6.16h-3.08zM4.00 502.82h3.08v12.32h-3.08zM4.00 354.98h3.08v12.32h-3.08zM4.00 290.30h3.08v3.08h-3.08zM7.08 912.46h3.08v3.08h-3.08zM7.08 897.06h3.08v3.08h-3.08zM7.08 884.74h3.08v3.08h-3.08zM7.08 749.22h3.08v3.08h-3.08zM7.08 730.74h3.08v3.08h-3.08zM7.08 647.58h3.08v3.08h-3.08zM7.08 549.02h3.08v3.08h-3.08zM7.08 515.14h3.08v3.08h-3.08zM7.08 499.74h3.08v3.08h-3.08zM7.08 395.02h3.08v3.08h-3.08zM7.08 367.30h3.08v3.08h-3.08zM7.08 351.90h3.08v3.08h-3.08zM7.08 290.30h3.08v3.08h-3.08zM10.16 915.54h3.08v3.08h-3.08zM10.16 893.98h3.08v3.08h-3.08zM10.16 884.74h3.08v3.08h-3.08zM10.16 749.22h3.08v3.08h-3.08zM10.16 730.74h3.08v3.08h-3.08zM10.16 647.58h3.08v3.08h-3.08zM10.16 549.02h3.08v3.08h-3.08zM10.16 518.22h3.08v3.08h-3.08zM10.16 496.66h3.08v3.08h-3.08zM10.16 395.02h3.08v3.08h-3.08zM10.16 370.38h3.08v3.08h-3.08zM10.16 348.82h3.08v3.08h-3.08zM10.16 290.30h3.08v3.08h-3.08zM13.24 918.62h3.08v3.08h-3.08zM13.24 890.90h3.08v3.08h-3.08zM13.24 884.74h3.08v3.08h-3.08zM13.24 872.42h3.08v9.24h-3.08zM13.24 850.86h3.08v12.32h-3.08zM13.24 835.46h3.08v6.16h-3.08zM13.24 823.14h3.08v3.08h-3.08zM13.24 810.82h3.08v9.24h-3.08zM13.24 792.34h3.08v3.08h-3.08zM13.24 776.94h3.08v6.16h-3.08zM13.24 755.38h3.08v9.24h-3.08zM13.24 749.22h3.08v3.08h-3.08zM13.24 730.74h3.08v3.08h-3.08zM13.24 706.10h3.08v3.08h-3.08zM13.24 696.86h3.08v6.16h-3.08zM13.24 678.38h3.08v12.32h-3.08zM13.24 656.82h3.08v9.24h-3.08zM13.24 644.50h3.08v9.24h-3.08zM13.24 635.26h3.08v3.08h-3.08zM13.24 613.70h3.08v9.24h-3.08zM13.24 604.46h3.08v3.08h-3.08zM13.24 592.14h3.08v9.24h-3.08zM13.24 558.26h3.08v9.24h-3.08zM13.24 545.94h3.08v9.24h-3.08zM13.24 521.30h3.08v3.08h-3.08zM13.24 490.50h3.08v6.16h-3.08zM13.24 475.10h3.08v3.08h-3.08zM13.24 468.94h3.08v3.08h-3.08zM13.24 459.70h3.08v6.16h-3.08zM13.24 453.54h3.08v3.08h-3.08zM13.24 444.30h3.08v6.16h-3.08zM13.24 428.90h3.08v6.16h-3.08zM13.24 416.58h3.08v3.08h-3.08zM13.24 404.26h3.08v9.24h-3.08zM13.24 391.94h3.08v9.24h-3.08zM13.24 370.38h3.08v3.08h-3.08zM13.24 345.74h3.08v3.08h-3.08zM13.24 333.42h3.08v9.24h-3.08zM13.24 318.02h3.08v9.24h-3.08zM13.24 299.54h3.08v9.24h-3.08zM13.24 290.30h3.08v3.08h-3.08zM13.24 274.90h3.08v3.08h-3.08zM13.24 259.50h3.08v6.16h-3.08zM13.24 247.18h3.08v3.08h-3.08zM13.24 237.94h3.08v6.16h-3.08zM16.32 918.62h3.08v3.08h-3.08zM16.32 890.90h3.08v3.08h-3.08zM16.32 881.66h3.08v6.16h-3.08zM16.32 869.34h3.08v3.08h-3.08zM16.32 863.18h3.08v3.08h-3.08zM16.32 847.78h3.08v3.08h-3.08zM16.32 841.62h3.08v3.08h-3.08zM16.32 832.38h3.08v3.08h-3.08zM16.32 820.06h3.08v6.16h-3.08zM16.32 810.82h3.08v3.08h-3.08zM16.32 792.34h3.08v3.08h-3.08zM16.32 783.10h3.08v3.08h-3.08zM16.32 773.86h3.08v3.08h-3.08zM16.32 764.62h3.08v3.08h-3.08zM16.32 749.22h3.08v6.16h-3.08zM16.32 730.74h3.08v3.08h-3.08zM16.32 703.02h3.08v6.16h-3.08zM16.32 690.70h3.08v3.08h-3.08zM16.32 675.30h3.08v3.08h-3.08zM16.32 666.06h3.08v3.08h-3.08zM16.32 653.74h3.08v3.08h-3.08zM16.32 647.58h3.08v3.08h-3.08zM16.32 635.26h3.08v3.08h-3.08zM16.32 622.94h3.08v3.08h-3.08zM16.32 610.62h3.08v3.08h-3.08zM16.32 601.38h3.08v6.16h-3.08zM16.32 589.06h3.08v3.08h-3.08zM16.32 567.50h3.08v3.08h-3.08zM16.32 555.18h3.08v3.08h-3.08zM16.32 549.02h3.08v3.08h-3.08zM16.32 521.30h3.08v3.08h-3.08zM16.32 490.50h3.08v3.08h-3.08zM16.32 475.10h3.08v3.08h-3.08zM16.32 465.86h3.08v6.16h-3.08zM16.32 450.46h3.08v6.16h-3.08zM16.32 435.06h3.08v3.08h-3.08zM16.32 425.82h3.08v3.08h-3.08zM16.32 413.50h3.08v6.16h-3.08zM16.32 401.18h3.08v3.08h-3.08zM16.32 395.02h3.08v3.08h-3.08zM16.32 367.30h3.08v3.08h-3.08zM16.32 342.66h3.08v6.16h-3.08zM16.32 327.26h3.08v6.16h-3.08zM16.32 314.94h3.08v3.08h-3.08zM16.32 308.78h3.08v3.08h-3.08zM16.32 296.46h3.08v3.08h-3.08zM16.32 290.30h3.08v3.08h-3.08zM16.32 277.98h3.08v3.08h-3.08zM16.32 265.66h3.08v3.08h-3.08zM16.32 256.42h3.08v3.08h-3.08zM16.32 244.10h3.08v6.16h-3.08zM19.40 918.62h3.08v3.08h-3.08zM19.40 890.90h3.08v3.08h-3.08zM19.40 884.74h3.08v3.08h-3.08zM19.40 869.34h3.08v3.08h-3.08zM19.40 863.18h3.08v3.08h-3.08zM19.40 844.70h3.08v3.08h-3.08zM19.40 829.30h3.08v3.08h-3.08zM19.40 823.14h3.08v3.08h-3.08zM19.40 807.74h3.08v3.08h-3.08zM19.40 795.42h3.08v3.08h-3.08zM19.40 786.18h3.08v3.08h-3.08zM19.40 770.78h3.08v3.08h-3.08zM19.40 764.62h3.08v3.08h-3.08zM19.40 749.22h3.08v3.08h-3.08zM19.40 712.26h3.08v21.56h-3.08zM19.40 706.10h3.08v3.08h-3.08zM19.40 675.30h3.08v3.08h-3.08zM19.40 669.14h3.08v3.08h-3.08zM19.40 647.58h3.08v6.16h-3.08zM19.40 635.26h3.08v3.08h-3.08zM19.40 626.02h3.08v3.08h-3.08zM19.40 604.46h3.08v6.16h-3.08zM19.40 589.06h3.08v3.08h-3.08zM19.40 570.58h3.08v3.08h-3.08zM19.40 549.02h3.08v6.16h-3.08zM19.40 521.30h3.08v3.08h-3.08zM19.40 490.50h3.08v3.08h-3.08zM19.40 475.10h3.08v3.08h-3.08zM19.40 468.94h3.08v3.08h-3.08zM19.40 453.54h3.08v3.08h-3.08zM19.40 438.14h3.08v3.08h-3.08zM19.40 422.74h3.08v3.08h-3.08zM19.40 416.58h3.08v3.08h-3.08zM19.40 401.18h3.08v3.08h-3.08zM19.40 395.02h3.08v3.08h-3.08zM19.40 354.98h3.08v12.32h-3.08zM19.40 345.74h3.08v3.08h-3.08zM19.40 330.34h3.08v3.08h-3.08zM19.40 311.86h3.08v6.16h-3.08zM19.40 290.30h3.08v6.16h-3.08zM19.40 281.06h3.08v3.08h-3.08zM19.40 268.74h3.08v3.08h-3.08zM19.40 253.34h3.08v3.08h-3.08zM19.40 247.18h3.08v3.08h-3.08zM22.48 918.62h3.08v3.08h-3.08zM22.48 890.90h3.08v3.08h-3.08zM22.48 884.74h3.08v3.08h-3.08zM22.48 869.34h3.08v3.08h-3.08zM22.48 857.02h3.08v6.16h-3.08zM22.48 829.30h3.08v18.48h-3.08zM22.48 823.14h3.08v3.08h-3.08zM22.48 807.74h3.08v3.08h-3.08zM22.48 795.42h3.08v3.08h-3.08zM22.48 770.78h3.08v18.48h-3.08zM22.48 764.62h3.08v3.08h-3.08zM22.48 749.22h3.08v3.08h-3.08zM22.48 730.74h3.08v3.08h-3.08zM22.48 706.10h3.08v3.08h-3.08zM22.48 675.30h3.08v15.40h-3.08zM22.48 669.14h3.08v3.08h-3.08zM22.48 647.58h3.08v3.08h-3.08zM22.48 635.26h3.08v3.08h-3.08zM22.48 626.02h3.08v3.08h-3.08zM22.48 604.46h3.08v6.16h-3.08zM22.48 589.06h3.08v3.08h-3.08zM22.48 570.58h3.08v3.08h-3.08zM22.48 549.02h3.08v6.16h-3.08zM22.48 521.30h3.08v3.08h-3.08zM22.48 490.50h3.08v3.08h-3.08zM22.48 475.10h3.08v3.08h-3.08zM22.48 468.94h3.08v3.08h-3.08zM22.48 453.54h3.08v3.08h-3.08zM22.48 422.74h3.08v18.48h-3.08zM22.48 416.58h3.08v3.08h-3.08zM22.48 401.18h3.08v3.08h-3.08zM22.48 395.02h3.08v3.08h-3.08zM22.48 351.90h3.08v3.08h-3.08zM22.48 345.74h3.08v3.08h-3.08zM22.48 330.34h3.08v3.08h-3.08zM22.48 311.86h3.08v6.16h-3.08zM22.48 290.30h3.08v6.16h-3.08zM22.48 284.14h3.08v3.08h-3.08zM22.48 253.34h3.08v18.48h-3.08zM22.48 247.18h3.08v3.08h-3.08zM25.56 918.62h3.08v3.08h-3.08zM25.56 890.90h3.08v3.08h-3.08zM25.56 884.74h3.08v3.08h-3.08zM25.56 869.34h3.08v3.08h-3.08zM25.56 850.86h3.08v6.16h-3.08zM25.56 844.70h3.08v3.08h-3.08zM25.56 823.14h3.08v3.08h-3.08zM25.56 804.66h3.08v3.08h-3.08zM25.56 798.50h3.08v3.08h-3.08zM25.56 786.18h3.08v3.08h-3.08zM25.56 764.62h3.08v3.08h-3.08zM25.56 749.22h3.08v3.08h-3.08zM25.56 730.74h3.08v3.08h-3.08zM25.56 706.10h3.08v3.08h-3.08zM25.56 690.70h3.08v3.08h-3.08zM25.56 675.30h3.08v3.08h-3.08zM25.56 669.14h3.08v3.08h-3.08zM25.56 647.58h3.08v3.08h-3.08zM25.56 635.26h3.08v3.08h-3.08zM25.56 626.02h3.08v3.08h-3.08zM25.56 604.46h3.08v6.16h-3.08zM25.56 589.06h3.08v3.08h-3.08zM25.56 570.58h3.08v3.08h-3.08zM25.56 549.02h3.08v6.16h-3.08zM25.56 521.30h3.08v3.08h-3.08zM25.56 490.50h3.08v6.16h-3.08zM25.56 475.10h3.08v3.08h-3.08zM25.56 468.94h3.08v3.08h-3.08zM25.56 453.54h3.08v3.08h-3.08zM25.56 438.14h3.08v3.08h-3.08zM25.56 416.58h3.08v3.08h-3.08zM25.56 401.18h3.08v3.08h-3.08zM25.56 395.02h3.08v3.08h-3.08zM25.56 345.74h3.08v6.16h-3.08zM25.56 330.34h3.08v3.08h-3.08zM25.56 311.86h3.08v6.16h-3.08zM25.56 287.22h3.08v9.24h-3.08zM25.56 281.06h3.08v3.08h-3.08zM25.56 268.74h3.08v3.08h-3.08zM25.56 247.18h3.08v3.08h-3.08zM28.64 915.54h3.08v3.08h-3.08zM28.64 893.98h3.08v3.08h-3.08zM28.64 884.74h3.08v3.08h-3.08zM28.64 869.34h3.08v3.08h-3.08zM28.64 844.70h3.08v6.16h-3.08zM28.64 829.30h3.08v3.08h-3.08zM28.64 823.14h3.08v3.08h-3.08zM28.64 804.66h3.08v3.08h-3.08zM28.64 798.50h3.08v3.08h-3.08zM28.64 786.18h3.08v3.08h-3.08zM28.64 770.78h3.08v3.08h-3.08zM28.64 764.62h3.08v3.08h-3.08zM28.64 749.22h3.08v3.08h-3.08zM28.64 730.74h3.08v3.08h-3.08zM28.64 706.10h3.08v3.08h-3.08zM28.64 690.70h3.08v3.08h-3.08zM28.64 675.30h3.08v3.08h-3.08zM28.64 669.14h3.08v3.08h-3.08zM28.64 647.58h3.08v6.16h-3.08zM28.64 635.26h3.08v3.08h-3.08zM28.64 626.02h3.08v3.08h-3.08zM28.64 604.46h3.08v6.16h-3.08zM28.64 589.06h3.08v3.08h-3.08zM28.64 570.58h3.08v3.08h-3.08zM28.64 549.02h3.08v6.16h-3.08zM28.64 518.22h3.08v3.08h-3.08zM28.64 496.66h3.08v3.08h-3.08zM28.64 490.50h3.08v3.08h-3.08zM28.64 475.10h3.08v3.08h-3.08zM28.64 468.94h3.08v3.08h-3.08zM28.64 453.54h3.08v3.08h-3.08zM28.64 438.14h3.08v3.08h-3.08zM28.64 422.74h3.08v3.08h-3.08zM28.64 416.58h3.08v3.08h-3.08zM28.64 401.18h3.08v3.08h-3.08zM28.64 395.02h3.08v3.08h-3.08zM28.64 370.38h3.08v3.08h-3.08zM28.64 345.74h3.08v6.16h-3.08zM28.64 330.34h3.08v3.08h-3.08zM28.64 311.86h3.08v6.16h-3.08zM28.64 290.30h3.08v6.16h-3.08zM28.64 277.98h3.08v3.08h-3.08zM28.64 268.74h3.08v3.08h-3.08zM28.64 253.34h3.08v3.08h-3.08zM28.64 247.18h3.08v3.08h-3.08zM31.72 912.46h3.08v3.08h-3.08zM31.72 897.06h3.08v3.08h-3.08zM31.72 881.66h3.08v6.16h-3.08zM31.72 869.34h3.08v3.08h-3.08zM31.72 863.18h3.08v3.08h-3.08zM31.72 847.78h3.08v3.08h-3.08zM31.72 841.62h3.08v3.08h-3.08zM31.72 832.38h3.08v3.08h-3.08zM31.72 823.14h3.08v3.08h-3.08zM31.72 801.58h3.08v3.08h-3.08zM31.72 783.10h3.08v3.08h-3.08zM31.72 773.86h3.08v3.08h-3.08zM31.72 764.62h3.08v3.08h-3.08zM31.72 749.22h3.08v6.16h-3.08zM31.72 730.74h3.08v3.08h-3.08zM31.72 706.10h3.08v3.08h-3.08zM31.72 690.70h3.08v3.08h-3.08zM31.72 675.30h3.08v3.08h-3.08zM31.72 666.06h3.08v3.08h-3.08zM31.72 653.74h3.08v3.08h-3.08zM31.72 647.58h3.08v3.08h-3.08zM31.72 635.26h3.08v3.08h-3.08zM31.72 622.94h3.08v3.08h-3.08zM31.72 610.62h3.08v3.08h-3.08zM31.72 604.46h3.08v3.08h-3.08zM31.72 589.06h3.08v3.08h-3.08zM31.72 567.50h3.08v3.08h-3.08zM31.72 555.18h3.08v3.08h-3.08zM31.72 549.02h3.08v3.08h-3.08zM31.72 515.14h3.08v3.08h-3.08zM31.72 499.74h3.08v3.08h-3.08zM31.72 490.50h3.08v3.08h-3.08zM31.72 475.10h3.08v6.16h-3.08zM31.72 468.94h3.08v3.08h-3.08zM31.72 453.54h3.08v3.08h-3.08zM31.72 435.06h3.08v3.08h-3.08zM31.72 425.82h3.08v3.08h-3.08zM31.72 416.58h3.08v3.08h-3.08zM31.72 401.18h3.08v3.08h-3.08zM31.72 395.02h3.08v3.08h-3.08zM31.72 367.30h3.08v3.08h-3.08zM31.72 351.90h3.08v3.08h-3.08zM31.72 345.74h3.08v3.08h-3.08zM31.72 330.34h3.08v3.08h-3.08zM31.72 314.94h3.08v3.08h-3.08zM31.72 308.78h3.08v3.08h-3.08zM31.72 296.46h3.08v3.08h-3.08zM31.72 290.30h3.08v3.08h-3.08zM31.72 274.90h3.08v3.08h-3.08zM31.72 265.66h3.08v3.08h-3.08zM31.72 256.42h3.08v3.08h-3.08zM31.72 247.18h3.08v3.08h-3.08zM34.80 900.14h3.08v12.32h-3.08zM34.80 884.74h3.08v3.08h-3.08zM34.80 872.42h3.08v9.24h-3.08zM34.80 850.86h3.08v12.32h-3.08zM34.80 835.46h3.08v6.16h-3.08zM34.80 823.14h3.08v3.08h-3.08zM34.80 801.58h3.08v3.08h-3.08zM34.80 776.94h3.08v6.16h-3.08zM34.80 755.38h3.08v9.24h-3.08zM34.80 749.22h3.08v3.08h-3.08zM34.80 730.74h3.08v3.08h-3.08zM34.80 706.10h3.08v3.08h-3.08zM34.80 672.22h3.08v18.48h-3.08zM34.80 656.82h3.08v9.24h-3.08zM34.80 644.50h3.08v3.08h-3.08zM34.80 635.26h3.08v3.08h-3.08zM34.80 613.70h3.08v9.24h-3.08zM34.80 604.46h3.08v3.08h-3.08zM34.80 589.06h3.08v3.08h-3.08zM34.80 558.26h3.08v9.24h-3.08zM34.80 549.02h3.08v3.08h-3.08zM34.80 502.82h3.08v12.32h-3.08zM34.80 481.26h3.08v9.24h-3.08zM34.80 475.10h3.08v3.08h-3.08zM34.80 468.94h3.08v3.08h-3.08zM34.80 453.54h3.08v3.08h-3.08zM34.80 428.90h3.08v6.16h-3.08zM34.80 416.58h3.08v3.08h-3.08zM34.80 401.18h3.08v3.08h-3.08zM34.80 391.94h3.08v3.08h-3.08zM34.80 354.98h3.08v12.32h-3.08zM34.80 345.74h3.08v3.08h-3.08zM34.80 330.34h3.08v3.08h-3.08zM34.80 314.94h3.08v3.08h-3.08zM34.80 299.54h3.08v9.24h-3.08zM34.80 290.30h3.08v3.08h-3.08zM34.80 271.82h3.08v3.08h-3.08zM34.80 259.50h3.08v6.16h-3.08zM34.80 247.18h3.08v3.08h-3.08z" fill="#111"/></g>
</g>
</svg>
</body></html>
